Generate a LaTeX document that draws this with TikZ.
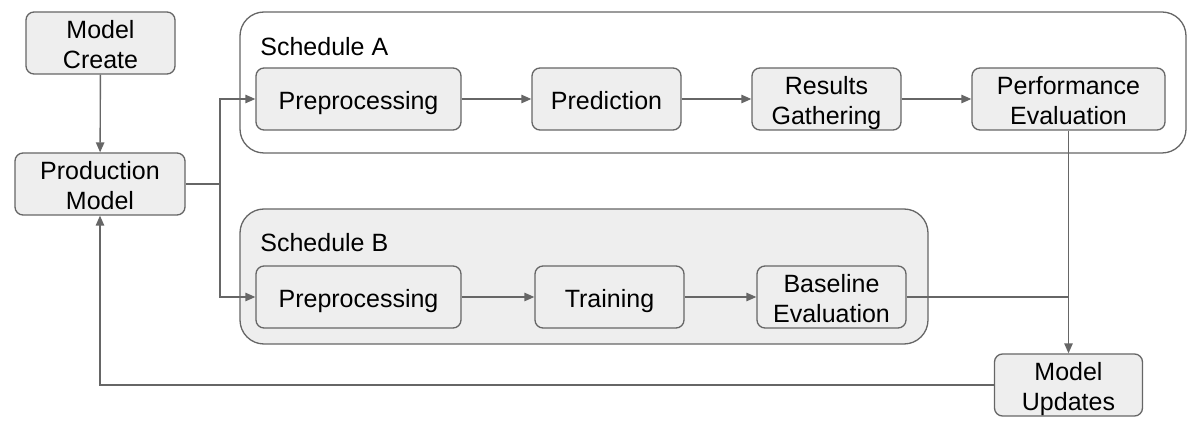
\documentclass[tikz,border=0pt]{standalone}
\usepackage{fontspec}
\setmainfont{Liberation Sans}
\usetikzlibrary{arrows.meta}
\definecolor{linecol}{HTML}{666666}
\definecolor{boxfill}{HTML}{EEEEEE}
\newcommand\btxt[1]{\raisebox{-2.4pt}[\height][\depth]{\begin{tabular}{@{}c@{}}#1\end{tabular}}}
\begin{document}
\begin{tikzpicture}[x=0.5pt,y=-0.5pt,
  box/.style={draw=linecol, fill=boxfill, rounded corners=4pt, line width=0.65pt,
    align=center, font=\fontsize{12.5}{15}\selectfont, inner sep=0pt,
    minimum height=31pt},
  cont/.style={draw=linecol, rounded corners=12pt, line width=0.65pt},
  lbl/.style={anchor=base west, font=\fontsize{12.5}{15}\selectfont, inner sep=0pt},
  conn/.style={draw=linecol, line width=0.7pt},
  arr/.style={conn, -{Triangle[length=5pt,width=4.2pt]}}]
\useasboundingbox (0,0) rectangle (1201,427);
% containers
\draw[cont, fill=white] (240,12) rectangle (1186,153);
\draw[cont, fill=boxfill] (240,209) rectangle (928,344);
\node[lbl] (la) at (260,56) {Schedule A};
\node[lbl] (lb) at (260,252) {Schedule B};
% nodes
\node[box, minimum width=74.5pt] (mc) at (100.5,43) {\btxt{Model\\Create}};
\node[box, minimum width=85pt] (pm) at (100,184) {\btxt{Production\\Model}};
\node[box, minimum width=102.5pt] (pa) at (358.5,99) {\btxt{Preprocessing}};
\node[box, minimum width=74.5pt] (pred) at (606.5,99) {\btxt{Prediction}};
\node[box, minimum width=74.5pt] (rg) at (826.5,99) {\btxt{Results\\Gathering}};
\node[box, minimum width=96.5pt] (pe) at (1068.5,99) {\btxt{Performance\\Evaluation}};
\node[box, minimum width=102.5pt] (pb) at (358.5,297) {\btxt{Preprocessing}};
\node[box, minimum width=74.5pt] (tr) at (609.5,297) {\btxt{Training}};
\node[box, minimum width=74.5pt] (be) at (831.5,297) {\btxt{Baseline\\Evaluation}};
\node[box, minimum width=74pt] (mu) at (1068.5,385) {\btxt{Model\\Updates}};
\coordinate (split) at (220,184);
% connectors
\draw[arr] (mc) -- (pm);
\draw[conn] (pm.east) -- (split);
\draw[arr] (split) |- (pa.west);
\draw[arr] (split) |- (pb.west);
\draw[arr] (pa) -- (pred);
\draw[arr] (pred) -- (rg);
\draw[arr] (rg) -- (pe);
\draw[arr] (pb) -- (tr);
\draw[arr] (tr) -- (be);
\draw[arr] (pe.south) -- (mu.north);
\draw[conn] (be.east) -- (be.east -| pe.south);
\draw[arr] (mu.west) -| (pm.south);
\end{tikzpicture}
\end{document}
